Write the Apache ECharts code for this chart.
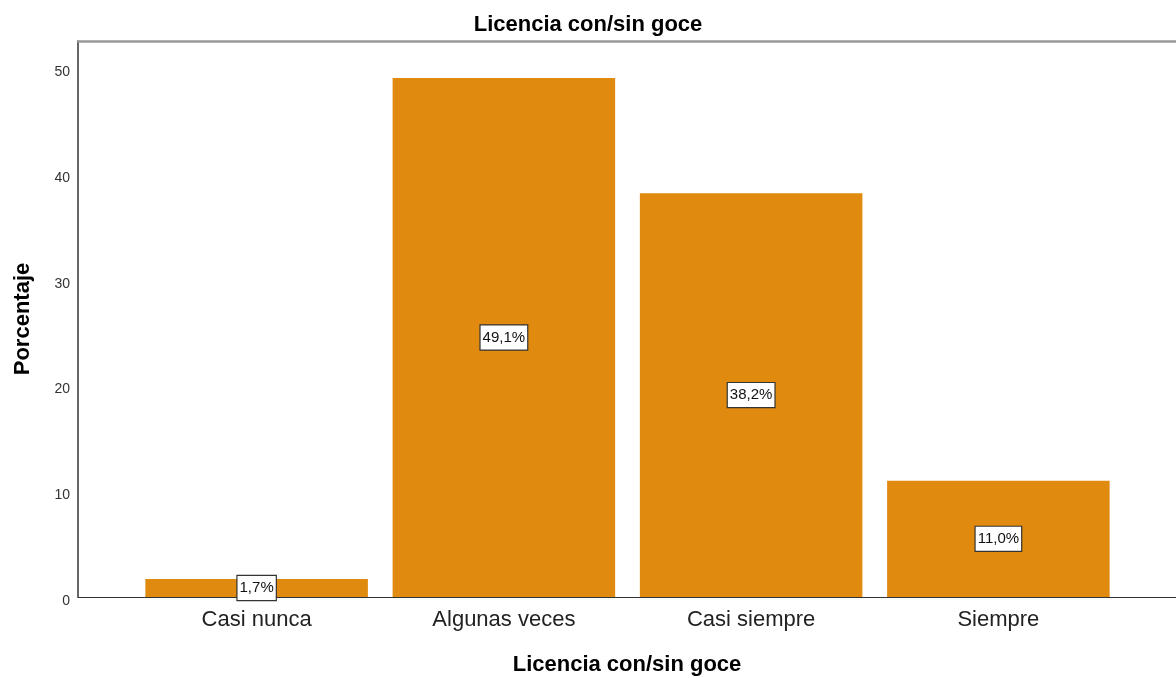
<!DOCTYPE html>
<html>
<head>
<meta charset="utf-8">
<script src="https://cdn.jsdelivr.net/npm/echarts@6/dist/echarts.min.js"></script>
<style>
  html, body { margin: 0; padding: 0; background: #fff; }
  #chart { width: 1176px; height: 678px; }
</style>
</head>
<body>
<div id="chart"></div>
<script>
// Response categories and their percentages
const categories = ['Casi nunca', 'Algunas veces', 'Casi siempre', 'Siempre'];
const percentages = [1.7, 49.1, 38.2, 11.0];
const chartTitle = 'Licencia con/sin goce';
const xTitle = 'Licencia con/sin goce';
const yTitle = 'Porcentaje';

const Y_MAX = 52.6;
const BAR_COLOR = '#E08A0F';
const FONT = '"Liberation Sans", Arial, sans-serif';

const chart = echarts.init(document.getElementById('chart'), null, { renderer: 'canvas' });

chart.setOption({
  backgroundColor: '#ffffff',
  animation: false,
  title: {
    text: chartTitle,
    left: 'center',
    top: 9,
    textStyle: { fontFamily: FONT, fontSize: 22, fontWeight: 'bold', color: '#000' }
  },
  grid: [
    // outer frame: holds the y scale and the frame lines
    { left: 78, right: 0, top: 41, bottom: 81, outerBoundsMode: 'none', containLabel: false },
    // inner band area where the categories sit
    { left: 133, right: 54, top: 41, bottom: 81, outerBoundsMode: 'none', containLabel: false }
  ],
  xAxis: [
    {
      gridIndex: 0, type: 'value', min: 0, max: 1, position: 'bottom',
      axisLine: { show: true, onZero: false, lineStyle: { color: '#333', width: 1.2 } },
      axisTick: { show: false }, axisLabel: { show: false }, splitLine: { show: false },
      name: xTitle, nameLocation: 'middle', nameGap: 57,
      nameTextStyle: { fontFamily: FONT, fontSize: 22, fontWeight: 'bold', color: '#000' }
    },
    {
      gridIndex: 0, type: 'value', min: 0, max: 1, position: 'top',
      axisLine: { show: true, onZero: false, lineStyle: { color: '#999', width: 2.5 } },
      axisTick: { show: false }, axisLabel: { show: false }, splitLine: { show: false }
    },
    {
      gridIndex: 1, type: 'category', data: categories,
      axisLine: { show: false }, axisTick: { show: false },
      axisLabel: { margin: 12, fontFamily: FONT, fontSize: 22, color: '#222' }
    }
  ],
  yAxis: [
    {
      gridIndex: 0, type: 'value', min: 0, max: Y_MAX, interval: 10,
      axisLine: { show: true, onZero: false, lineStyle: { color: '#333', width: 1.5 } },
      axisTick: { show: false }, splitLine: { show: false },
      axisLabel: {
        showMaxLabel: false, margin: 8,
        formatter: '{v|{value}}',
        rich: { v: { padding: [8, 0, 0, 0], fontFamily: FONT, fontSize: 14, color: '#333' } },
        fontFamily: FONT, fontSize: 14, color: '#333'
      },
      name: yTitle, nameLocation: 'middle', nameGap: 44,
      nameTextStyle: { fontFamily: FONT, fontSize: 22, fontWeight: 'bold', color: '#000' }
    },
    {
      gridIndex: 1, type: 'value', min: 0, max: Y_MAX, show: false
    }
  ],
  series: [
    {
      type: 'bar',
      xAxisIndex: 2, yAxisIndex: 1,
      data: percentages,
      barCategoryGap: '10%',
      itemStyle: { color: BAR_COLOR },
      label: {
        show: true,
        position: 'inside',
        formatter: p => p.value.toFixed(1).replace('.', ',') + '%',
        fontFamily: FONT, fontSize: 15, color: '#111',
        backgroundColor: '#fff', borderColor: '#333', borderWidth: 1.2,
        padding: [5, 2, 4, 2]
      }
    }
  ]
});
</script>
</body>
</html>
